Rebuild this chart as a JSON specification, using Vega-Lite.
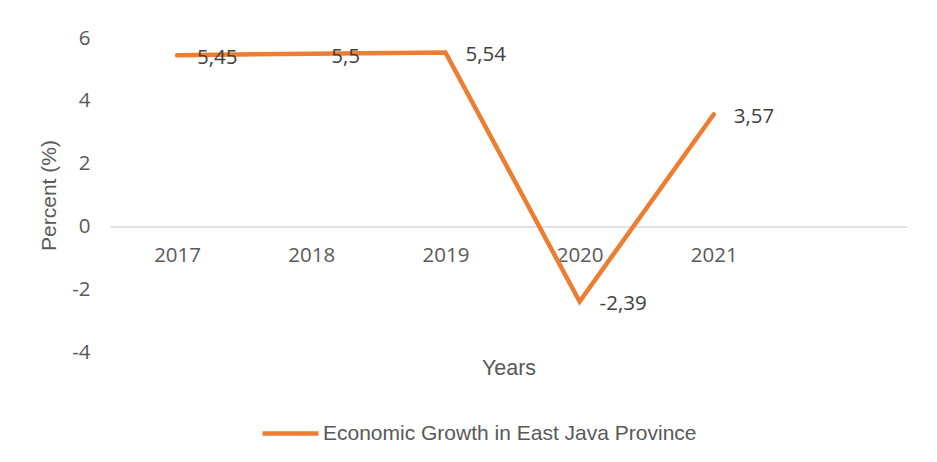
{
  "$schema": "https://vega.github.io/schema/vega-lite/v6.json",
  "width": 797,
  "height": 314,
  "autosize": {"type": "none"},
  "padding": {"left": 110, "top": 38, "right": 30, "bottom": 110},
  "background": "white",
  "config": {
    "view": {"stroke": null},
    "locale": {"number": {"decimal": ",", "thousands": ".", "grouping": [3], "currency": ["", ""], "minus": "-"}}
  },
  "data": {
    "values": [
      {"year": 2017, "growth": 5.45, "label": "5,45", "series": "Economic Growth in East Java Province"},
      {"year": 2018, "growth": 5.5, "label": "5,5", "series": "Economic Growth in East Java Province"},
      {"year": 2019, "growth": 5.54, "label": "5,54", "series": "Economic Growth in East Java Province"},
      {"year": 2020, "growth": -2.39, "label": "-2,39", "series": "Economic Growth in East Java Province"},
      {"year": 2021, "growth": 3.57, "label": "3,57", "series": "Economic Growth in East Java Province"}
    ]
  },
  "encoding": {
    "x": {
      "field": "year",
      "type": "quantitative",
      "scale": {"domain": [2016.5, 2022.44], "nice": false, "zero": false},
      "axis": {
        "orient": "bottom",
        "offset": -125.6,
        "values": [2017, 2018, 2019, 2020, 2021],
        "format": "d",
        "grid": false,
        "ticks": false,
        "domainColor": "#d9d9d9",
        "domainWidth": 1.5,
        "labelFont": "Open Sans",
        "labelFontSize": 20.5,
        "labelColor": "#595959",
        "labelPadding": 19,
        "title": "Years",
        "titleFont": "Liberation Sans",
        "titleFontSize": 21.5,
        "titleFontWeight": "normal",
        "titleColor": "#595959",
        "titlePadding": 92
      }
    },
    "y": {
      "field": "growth",
      "type": "quantitative",
      "scale": {"domain": [-4, 6], "nice": false},
      "axis": {
        "values": [-4, -2, 0, 2, 4, 6],
        "grid": false,
        "ticks": false,
        "domain": false,
        "labelFont": "Open Sans",
        "labelFontSize": 20.5,
        "labelColor": "#595959",
        "labelPadding": 20,
        "title": "Percent (%)",
        "titleFont": "Liberation Sans",
        "titleFontSize": 21,
        "titleFontWeight": "normal",
        "titleColor": "#595959",
        "titlePadding": 12
      }
    }
  },
  "layer": [
    {
      "mark": {"type": "line", "strokeWidth": 4.5, "strokeCap": "round"},
      "encoding": {
        "color": {
          "field": "series",
          "type": "nominal",
          "scale": {"range": ["#ED7D31"]},
          "legend": {
            "orient": "none",
            "legendX": 150,
            "legendY": 365,
            "direction": "horizontal",
            "title": null,
            "padding": 0,
            "symbolType": "stroke",
            "symbolSize": 3136,
            "symbolStrokeWidth": 4.5,
            "labelFont": "Liberation Sans",
            "labelFontSize": 21,
            "labelColor": "#595959",
            "labelOffset": 2,
            "labelLimit": 0
          }
        }
      }
    },
    {
      "mark": {"type": "text", "align": "left", "baseline": "middle", "dx": 20, "dy": 3, "font": "Open Sans", "fontSize": 20.5, "color": "#404040"},
      "encoding": {"text": {"field": "label", "type": "nominal"}}
    }
  ]
}
